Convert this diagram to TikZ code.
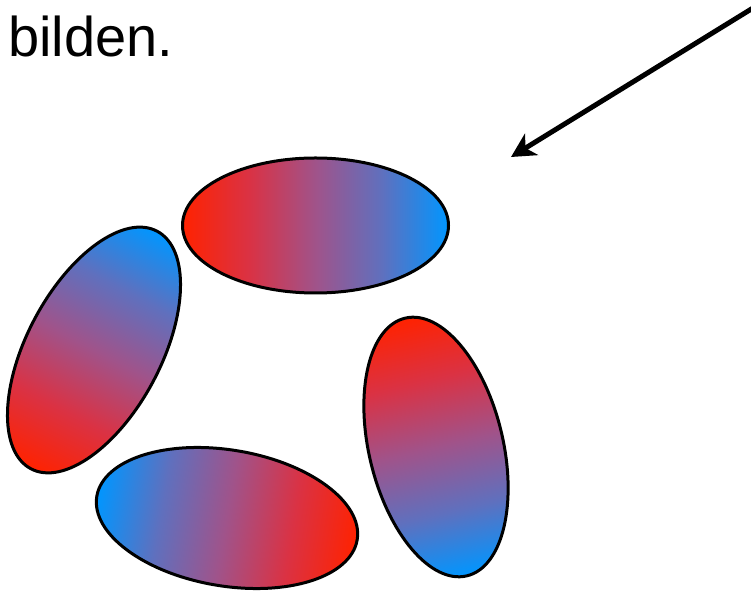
\documentclass[tikz,border=0pt]{standalone}
\usepackage{fontspec}
\setmainfont{Liberation Sans}
\usetikzlibrary{arrows.meta}
\definecolor{ered}{RGB}{255,34,0}
\definecolor{eredmid}{RGB}{218,50,68}
\definecolor{emid}{RGB}{160,83,138}
\definecolor{ebluemid}{RGB}{95,112,190}
\definecolor{eblue}{RGB}{0,150,255}
\pgfdeclarehorizontalshading{redblue}{100bp}{color(0bp)=(ered); color(25bp)=(ered); color(37.5bp)=(eredmid); color(50bp)=(emid); color(62.5bp)=(ebluemid); color(75bp)=(eblue); color(100bp)=(eblue)}
\pgfdeclarehorizontalshading{bluered}{100bp}{color(0bp)=(eblue); color(25bp)=(eblue); color(37.5bp)=(ebluemid); color(50bp)=(emid); color(62.5bp)=(eredmid); color(75bp)=(ered); color(100bp)=(ered)}
\tikzset{
  blob/.style={draw=black, line width=3pt},
  pointer/.style={line width=5pt, -{Stealth[length=24pt, width=25pt, inset=7pt]}},
}
\begin{document}
\begin{tikzpicture}[x=1pt,y=1pt]
\useasboundingbox (0,0) rectangle (751,591);
% text
\node[anchor=base west, inner sep=0pt, font=\fontsize{56}{60}\selectfont] (txt) at (8,534) {bilden.};
% arrow
\coordinate (s) at (753,583);
\coordinate (t) at (511,434);
\draw[pointer] (s) -- (t);
% top ellipse
\begin{scope}[transform canvas={shift={(315.5,365.5)}}]
  \shade[blob, shading=redblue] (0,0) ellipse (133 and 67.5);
\end{scope}
% left ellipse
\begin{scope}[transform canvas={shift={(94,241)}, rotate=62}]
  \shade[blob, shading=redblue] (0,0) ellipse (134.5 and 67);
\end{scope}
% bottom ellipse
\begin{scope}[transform canvas={shift={(227,73)}, rotate=-9.5}]
  \shade[blob, shading=bluered] (0,0) ellipse (132 and 68);
\end{scope}
% right ellipse
\begin{scope}[transform canvas={shift={(436,144)}, rotate=103.5}]
  \shade[blob, shading=bluered] (0,0) ellipse (132.5 and 67);
\end{scope}
\end{tikzpicture}
\end{document}
